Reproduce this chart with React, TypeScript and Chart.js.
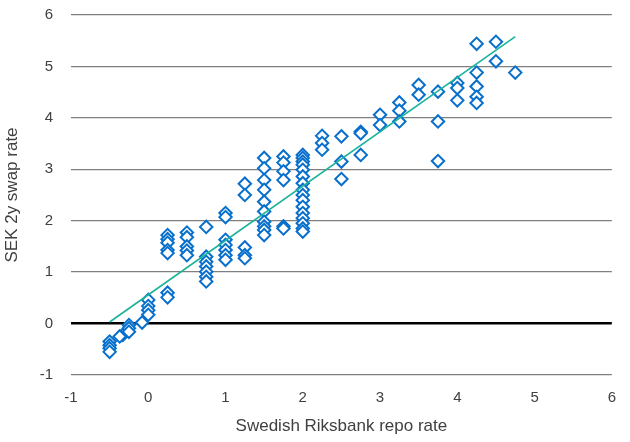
import React, { useEffect, useRef } from "react";
import { Chart, registerables } from "chart.js";

Chart.register(...registerables);

const repoRate: number[] = [
  -0.5, -0.5, -0.5, -0.5,
  -0.33, -0.37,
  -0.25, -0.25, -0.25,
  -0.08,
  0, 0, 0, 0,
  0.25, 0.25,
  0.25, 0.25, 0.25, 0.25, 0.25,
  0.5, 0.5, 0.5, 0.5, 0.5,
  0.75, 0.75, 0.75, 0.75, 0.75, 0.75, 0.75,
  1, 1, 1, 1, 1, 1, 1,
  1.25, 1.25, 1.25, 1.25, 1.25,
  1.5, 1.5, 1.5, 1.5, 1.5, 1.5, 1.5, 1.5, 1.5, 1.5,
  1.75, 1.75, 1.75, 1.75, 1.75, 1.75,
  2, 2, 2, 2, 2, 2, 2, 2, 2, 2, 2, 2, 2, 2, 2, 2,
  2.25, 2.25, 2.25,
  2.5, 2.5, 2.5,
  2.75, 2.75, 2.75,
  3, 3,
  3.25, 3.25, 3.25,
  3.5, 3.5,
  3.75, 3.75, 3.75,
  4, 4, 4,
  4.25, 4.25, 4.25, 4.25, 4.25,
  4.5, 4.5,
  4.75,
];

const swapRate: number[] = [
  -0.35, -0.42, -0.48, -0.55,
  -0.22, -0.25,
  -0.03, -0.09, -0.16,
  0.02,
  0.46, 0.34, 0.26, 0.17,
  0.6, 0.51,
  1.72, 1.64, 1.57, 1.43, 1.37,
  1.77, 1.68, 1.5, 1.42, 1.33,
  1.88, 1.3, 1.2, 1.11, 1.01, 0.91, 0.82,
  2.15, 2.07, 1.63, 1.53, 1.43, 1.33, 1.24,
  2.72, 2.5, 1.48, 1.33, 1.27,
  3.22, 3.02, 2.79, 2.6, 2.37, 2.18, 1.98, 1.89, 1.82, 1.72,
  3.25, 3.13, 2.96, 2.79, 1.89, 1.85,
  3.28, 3.22, 3.15, 3.09, 2.99, 2.86, 2.73, 2.6, 2.5, 2.4, 2.27, 2.15, 2.05, 1.95, 1.85, 1.79,
  3.65, 3.51, 3.38,
  3.64, 3.15, 2.81,
  3.73, 3.7, 3.28,
  4.06, 3.86,
  4.3, 4.14, 3.93,
  4.64, 4.45,
  4.51, 3.93, 3.16,
  4.68, 4.58, 4.34,
  5.44, 4.88, 4.61, 4.41, 4.29,
  5.48, 5.1,
  4.88,
];

const trendX: number[] = [-0.5, 4.75];
const trendY: number[] = [0.03, 5.58];

const axisTicks: number[] = [-1, 0, 1, 2, 3, 4, 5, 6];

const xTitle = "Swedish Riksbank repo rate";
const yTitle = "SEK 2y swap rate";

export default function App() {
  const ref = useRef<HTMLCanvasElement | null>(null);

  useEffect(() => {
    if (!ref.current) return;
    const font = "'Liberation Sans', Arial, sans-serif";
    const chart = new Chart(ref.current, {
      type: "scatter",
      data: {
        datasets: [
          {
            type: "line",
            label: "Trend",
            data: trendX.map((x, i) => ({ x, y: trendY[i] })),
            borderColor: "#1CB39B",
            borderWidth: 1.6,
            pointRadius: 0,
            fill: false,
          } as any,
          {
            label: "Obs",
            data: repoRate.map((x, i) => ({ x, y: swapRate[i] })),
            pointStyle: "rectRot",
            pointRadius: 6.2,
            pointHoverRadius: 6.2,
            pointBorderWidth: 2,
            borderColor: "#0870CC",
            backgroundColor: "#FFFFFF",
          },
        ],
      },
      options: {
        animation: false,
        responsive: false,
        maintainAspectRatio: false,
        layout: { padding: { left: 0, right: 16, top: 15, bottom: 0 } },
        plugins: {
          legend: { display: false },
          tooltip: { enabled: false },
        },
        scales: {
          x: {
            type: "linear",
            min: -1,
            max: 6,
            afterBuildTicks: (s: any) => {
              s.ticks = axisTicks.map((v) => ({ value: v }));
            },
            afterFit: (s: any) => {
              s.height = 67;
            },
            grid: { display: false, drawTicks: false },
            border: { display: false },
            ticks: {
              padding: 14,
              color: "#404040",
              font: { family: font, size: 15 },
              maxRotation: 0,
            },
            title: {
              display: true,
              text: xTitle,
              color: "#404040",
              font: { family: font, size: 17 },
              padding: { top: 4, bottom: 5 },
            },
          },
          y: {
            type: "linear",
            min: -1,
            max: 6,
            afterBuildTicks: (s: any) => {
              s.ticks = axisTicks.map((v) => ({ value: v }));
            },
            afterFit: (s: any) => {
              s.width = 71;
              s.paddingTop = 0;
              s.paddingBottom = 0;
            },
            grid: {
              drawTicks: false,
              color: (c: any) => (c.tick && c.tick.value === 0 ? "#000000" : "#7F7F7F"),
              lineWidth: (c: any) => (c.tick && c.tick.value === 0 ? 2.5 : 1.3),
            },
            border: { display: false },
            ticks: {
              padding: 18,
              color: "#404040",
              font: { family: font, size: 15 },
            },
            title: {
              display: true,
              text: yTitle,
              color: "#404040",
              font: { family: font, size: 17 },
              padding: { top: 2, bottom: 0 },
            },
          },
        },
      },
    });
    return () => chart.destroy();
  }, []);

  return (
    <div style={{ position: "fixed", left: 0, top: 0, width: 630, height: 442, background: "#fff" }}>
      <canvas ref={ref} width={630} height={442} style={{ width: 630, height: 442 }} />
    </div>
  );
}
